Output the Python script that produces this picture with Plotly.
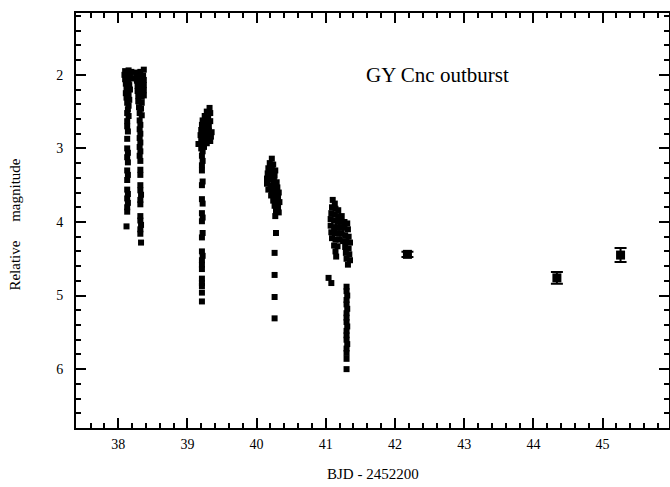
import plotly.graph_objects as go

# Night 1 (two strands)
n1_x = [38.10, 38.15, 38.19, 38.09, 38.13, 38.17, 38.10, 38.15, 38.19, 38.11, 38.16, 38.12, 38.17, 38.11, 38.15,
        38.12, 38.16, 38.13, 38.15, 38.14, 38.13, 38.15,
        38.13, 38.13, 38.14, 38.13, 38.13, 38.14, 38.13, 38.14, 38.13, 38.14, 38.13, 38.13, 38.14, 38.13, 38.14,
        38.13, 38.13, 38.12,
        38.27, 38.32, 38.37, 38.26, 38.31, 38.36, 38.27, 38.32, 38.37, 38.28, 38.33, 38.37, 38.28, 38.33, 38.37,
        38.29, 38.34, 38.37, 38.29, 38.34, 38.30, 38.33, 38.31, 38.34,
        38.31, 38.32, 38.31, 38.32, 38.31, 38.32, 38.31, 38.32, 38.31, 38.32, 38.32, 38.32, 38.32, 38.32, 38.33,
        38.32, 38.32, 38.32, 38.32, 38.33, 38.32, 38.32, 38.33]
n1_y = [1.95, 1.94, 1.96, 2.00, 2.02, 2.00, 2.06, 2.08, 2.05, 2.12, 2.14, 2.19, 2.20, 2.25, 2.27,
        2.31, 2.34, 2.38, 2.42, 2.47, 2.52, 2.56,
        2.63, 2.70, 2.77, 2.87, 3.00, 3.06, 3.12, 3.19, 3.30, 3.36, 3.43, 3.56, 3.62, 3.68, 3.74,
        3.80, 3.86, 4.06,
        1.97, 1.96, 1.93, 2.02, 2.03, 2.01, 2.08, 2.10, 2.07, 2.15, 2.16, 2.14, 2.22, 2.23, 2.21,
        2.29, 2.30, 2.28, 2.36, 2.38, 2.44, 2.46, 2.52, 2.55,
        2.62, 2.68, 2.74, 2.80, 2.86, 2.92, 2.98, 3.04, 3.10, 3.17, 3.29, 3.36, 3.50, 3.57, 3.63,
        3.70, 3.76, 3.92, 3.98, 4.04, 4.10, 4.16, 4.28]

# Night 2
n2_x = [39.32, 39.28, 39.33, 39.25, 39.30, 39.22, 39.27, 39.33, 39.21, 39.26, 39.31, 39.20, 39.25, 39.31, 39.35,
        39.19, 39.24, 39.29, 39.34, 39.20, 39.25, 39.31, 39.16, 39.22, 39.28, 39.33, 39.20, 39.24,
        39.22, 39.21, 39.22, 39.21, 39.21, 39.22, 39.21, 39.21, 39.22, 39.21, 39.22, 39.21, 39.22, 39.21,
        39.21, 39.22, 39.21, 39.21, 39.21, 39.21, 39.21, 39.21, 39.21, 39.21]
n2_y = [2.45, 2.50, 2.52, 2.56, 2.58, 2.62, 2.64, 2.63, 2.68, 2.70, 2.70, 2.75, 2.77, 2.76, 2.78,
        2.82, 2.84, 2.83, 2.84, 2.89, 2.90, 2.88, 2.94, 2.95, 2.93, 2.90, 3.00, 2.98,
        3.04, 3.10, 3.17, 3.23, 3.30, 3.45, 3.50, 3.69, 3.75, 3.88, 3.94, 3.99, 4.15, 4.21,
        4.40, 4.46, 4.52, 4.58, 4.64, 4.77, 4.83, 4.87, 4.96, 5.08]

# Night 3
n3_x = [40.22, 40.19, 40.24, 40.17, 40.22, 40.27, 40.16, 40.21, 40.26, 40.15, 40.20, 40.25, 40.29, 40.15, 40.20,
        40.25, 40.30, 40.17, 40.22, 40.27, 40.32, 40.21, 40.26, 40.31, 40.24, 40.29, 40.33, 40.26, 40.31, 40.28,
        40.32, 40.27,
        40.28, 40.26, 40.26, 40.26, 40.26]
n3_y = [3.14, 3.20, 3.22, 3.27, 3.28, 3.30, 3.34, 3.35, 3.37, 3.41, 3.42, 3.44, 3.46, 3.48, 3.50,
        3.51, 3.53, 3.56, 3.57, 3.58, 3.60, 3.64, 3.65, 3.66, 3.71, 3.72, 3.73, 3.78, 3.80, 3.85,
        3.87, 3.92,
        4.15, 4.42, 4.72, 5.02, 5.31]

# Night 4
n4_x = [41.10, 41.13, 41.09, 41.14, 41.18, 41.08, 41.13, 41.18, 41.23, 41.07, 41.12, 41.17, 41.22, 41.27, 41.31,
        41.07, 41.12, 41.17, 41.22, 41.27, 41.32, 41.08, 41.13, 41.18, 41.23, 41.28, 41.33, 41.09, 41.14, 41.20,
        41.25, 41.30, 41.35, 41.12, 41.17, 41.28, 41.33, 41.14, 41.29, 41.34, 41.15, 41.30, 41.35, 41.32,
        41.04, 41.08,
        41.30, 41.30, 41.31, 41.30, 41.30, 41.31, 41.30, 41.30, 41.30, 41.31, 41.30, 41.30, 41.30, 41.31, 41.30,
        41.30, 41.30, 41.30]
n4_y = [3.70, 3.75, 3.80, 3.82, 3.84, 3.88, 3.90, 3.92, 3.92, 3.96, 3.98, 4.00, 4.00, 4.00, 4.02,
        4.05, 4.07, 4.08, 4.08, 4.08, 4.10, 4.14, 4.15, 4.16, 4.16, 4.18, 4.20, 4.22, 4.24, 4.24,
        4.26, 4.27, 4.28, 4.32, 4.33, 4.34, 4.36, 4.40, 4.42, 4.44, 4.47, 4.50, 4.52, 4.58,
        4.76, 4.83,
        4.88, 4.94, 5.00, 5.06, 5.12, 5.18, 5.24, 5.30, 5.36, 5.42, 5.48, 5.54, 5.60, 5.66, 5.72,
        5.78, 5.86, 6.00]

# Nightly means with errors
avg_x = [42.18, 44.34, 45.26]
avg_y = [4.44, 4.76, 4.45]
avg_err = [0.035, 0.08, 0.095]

x_ticks = [38, 39, 40, 41, 42, 43, 44, 45]
y_ticks = [2, 3, 4, 5, 6]

FONT = "Liberation Serif"
mk = dict(symbol="square", size=6, color="black", line=dict(width=0))

fig = go.Figure()
for xs, ys in [(n1_x, n1_y), (n2_x, n2_y), (n3_x, n3_y), (n4_x, n4_y)]:
    fig.add_trace(go.Scatter(x=xs, y=ys, mode="markers", marker=mk, showlegend=False, hoverinfo="skip"))
fig.add_trace(go.Scatter(x=avg_x, y=avg_y, mode="markers", marker=dict(symbol="square", size=9, color="black"),
                         error_y=dict(type="data", array=avg_err, visible=True, color="black", thickness=2, width=6),
                         showlegend=False))

axis_common = dict(showline=True, linewidth=2, linecolor="black", mirror="allticks", ticks="inside",
                   ticklen=10, tickwidth=2, tickcolor="black", showgrid=False, zeroline=False,
                   tickfont=dict(family=FONT, size=14, color="black"))
fig.update_xaxes(range=[37.39, 45.96], tickvals=x_ticks, ticktext=[str(v) for v in x_ticks],
                 minor=dict(dtick=0.2, ticks="inside", ticklen=5, tickwidth=2, tickcolor="black", showgrid=False),
                 ticklabelstandoff=2, **axis_common)
fig.update_yaxes(range=[6.8, 1.16], tickvals=y_ticks, ticktext=[str(v) for v in y_ticks],
                 minor=dict(dtick=0.2, tick0=0, ticks="inside", ticklen=5, tickwidth=2, tickcolor="black", showgrid=False),
                 ticklabelstandoff=8, **axis_common)

fig.add_annotation(x=0.609, y=0.851, xref="paper", yref="paper", text="GY Cnc outburst", showarrow=False,
                   xanchor="center", yanchor="middle", font=dict(family=FONT, size=21, color="black"))
fig.add_annotation(x=0.5, y=-0.111, xref="paper", yref="paper", text="BJD - 2452200", showarrow=False,
                   xanchor="center", yanchor="middle", font=dict(family=FONT, size=15, color="black"))
fig.add_annotation(x=-0.103, y=0.49, xref="paper", yref="paper",
                   text="Relative\u00a0\u00a0\u00a0\u00a0\u00a0magnitude", textangle=-90, showarrow=False,
                   xanchor="center", yanchor="middle", font=dict(family=FONT, size=15, color="black"))

fig.update_layout(width=670, height=487, margin=dict(l=76, r=1, t=13, b=59, autoexpand=False),
                  plot_bgcolor="white", paper_bgcolor="white", font=dict(family=FONT, color="black"))
fig.write_html("out.html", config={"displayModeBar": False},
               post_script="document.body.style.margin='0px';")
